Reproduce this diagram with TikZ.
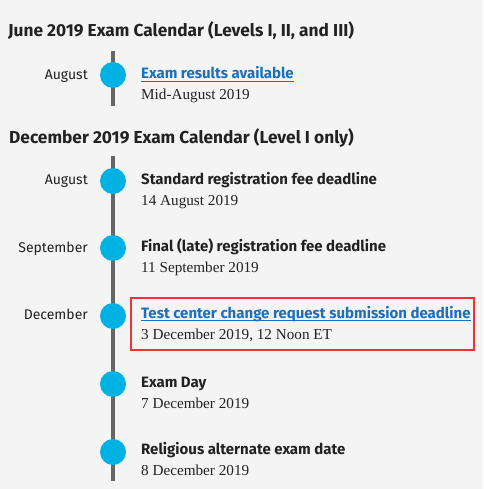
\documentclass[tikz,border=0pt]{standalone}
\usepackage{fontspec}
\setmainfont{Liberation Serif}
\newfontfamily\hdfont{Fira Sans}
\definecolor{bgc}{HTML}{F4F4F4}
\definecolor{dotc}{HTML}{00B2E3}
\definecolor{linec}{HTML}{666666}
\definecolor{linkc}{HTML}{1A6FBF}
\definecolor{txtc}{HTML}{222222}
\definecolor{redc}{HTML}{EE3338}
\begin{document}
\begin{tikzpicture}[x=1pt,y=-1pt,
  heading/.style={anchor=base west,inner sep=0pt,font=\hdfont\bfseries\fontsize{17.3}{20}\selectfont,text=txtc},
  month/.style={anchor=base east,inner sep=0pt,font=\hdfont\fontsize{14}{16}\selectfont,text=txtc},
  evtitle/.style={anchor=base west,inner sep=0pt,font=\hdfont\bfseries\fontsize{15}{18}\selectfont,text=txtc},
  evlink/.style={evtitle,text=linkc},
  evdate/.style={anchor=base west,inner sep=0pt,font=\fontsize{15.2}{17}\selectfont,text=txtc},
  dot/.style={circle,fill=dotc,minimum size=26pt,inner sep=0pt},
  tline/.style={draw=linec,line width=4pt},
  uline/.style={draw=linkc,line width=1pt},
  hilite/.style={draw=redc,line width=2pt}]
\fill[bgc] (0,0) rectangle (483,489);
\useasboundingbox (0,0) rectangle (483,489);

% June section
\node[heading] (h1) at (8,37) {June 2019 Exam Calendar (Levels I, II, and III)};
\coordinate (t1top) at (113,51);
\coordinate (t1bot) at (113,106);
\draw[tline] (t1top) -- (t1bot);
\node[dot] (d1) at (113,75) {};
\node[month] (m1) at (88,80) {August};
\node[evlink] (e1) at (141,79) {Exam results available};
\draw[uline] ([yshift=-2.5pt]e1.base west) -- ([yshift=-2.5pt]e1.base east);
\node[evdate] (s1) at (141,100) {Mid-August 2019};

% December section
\node[heading] (h2) at (9,143) {December 2019 Exam Calendar (Level I only)};
\coordinate (t2top) at (113,156);
\coordinate (t2bot) at (113,481);
\draw[tline] (t2top) -- (t2bot);

\node[dot] (d2) at (113,181) {};
\node[month] (m2) at (88,184) {August};
\node[evtitle] (e2) at (141,184) {Standard registration fee deadline};
\node[evdate] (s2) at (141,205) {14 August 2019};

\node[dot] (d3) at (113,248) {};
\node[month] (m3) at (88,252) {September};
\node[evtitle] (e3) at (141,251) {Final (late) registration fee deadline};
\node[evdate] (s3) at (141,272) {11 September 2019};

\node[dot] (d4) at (113,316) {};
\node[month] (m4) at (88,319) {December};
\node[evlink] (e4) at (141,318) {Test center change request submission deadline};
\draw[uline] ([yshift=-2.5pt]e4.base west) -- ([yshift=-2.5pt]e4.base east);
\node[evdate] (s4) at (141,339) {3 December 2019, 12 Noon ET};
\coordinate (boxA) at (131,298);
\coordinate (boxB) at (474,350);
\draw[hilite] (boxA) rectangle (boxB);

\node[dot] (d5) at (113,384) {};
\node[evtitle] (e5) at (141,387) {Exam Day};
\node[evdate] (s5) at (141,408) {7 December 2019};

\node[dot] (d6) at (113,452) {};
\node[evtitle] (e6) at (141,454) {Religious alternate exam date};
\node[evdate] (s6) at (141,475) {8 December 2019};
\end{tikzpicture}
\end{document}
